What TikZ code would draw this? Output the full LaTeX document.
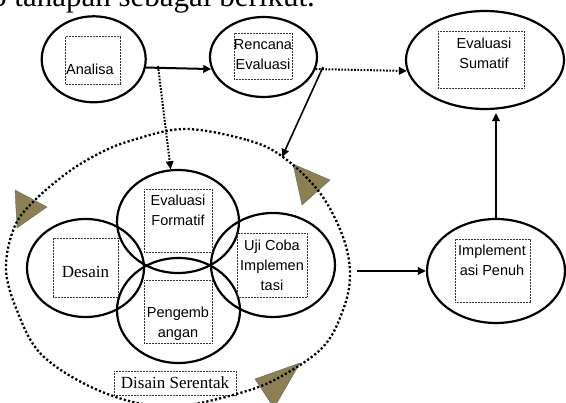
\documentclass[tikz,border=0pt]{standalone}
\usepackage{fontspec}
\newfontfamily\lsans{Liberation Sans}
\newfontfamily\lserif{Liberation Serif}
\usetikzlibrary{shapes.geometric,arrows.meta}
\definecolor{olivetri}{RGB}{140,128,82}
\begin{document}
\begin{tikzpicture}[x=1pt,y=-1pt,
  ell/.style={draw, ellipse, line width=2.2pt, inner sep=0pt},
  tbox/.style={draw=black!80, line width=0.6pt, dash pattern=on 0.6pt off 0.9pt, inner sep=0pt},
  lab/.style={font=\lsans\fontsize{14.5}{20}\selectfont, align=center, inner sep=0pt, anchor=north},
  slab/.style={font=\lserif\fontsize{17}{20}\selectfont, inner sep=0pt},
  arr/.style={line width=2pt, -{Triangle[length=8pt,width=7.5pt]}},
  dots/.style={line width=2pt, dash pattern=on 1.7pt off 1.5pt},
  bigdots/.style={line width=2.3pt, dash pattern=on 2.2pt off 2.2pt},
  tri/.style={fill=olivetri, draw=black!60, line width=0.4pt}
]
\useasboundingbox (0,0) rectangle (566,403);

% intro text (cut at top)
\node[font=\lserif\fontsize{31}{31}\selectfont, anchor=base west, inner sep=0pt] (intro) at (-9,6.5) {5 tahapan sebagai berikut.};

% ellipses
\node[ell, minimum width=104pt, minimum height=86pt] (ana) at (93.7,59.3) {};
\node[ell, minimum width=107pt, minimum height=80pt] (ren) at (263.5,57) {};
\node[ell, minimum width=158pt, minimum height=98pt] (sum) at (485,60) {};
\node[ell, minimum width=138pt, minimum height=104pt] (imp) at (496,271) {};
\node[ell, minimum width=117pt, minimum height=98pt] (des) at (85.5,268) {};
\node[ell, minimum width=122pt, minimum height=103pt] (ef) at (178,221.5) {};
\node[ell, minimum width=123pt, minimum height=105pt] (pen) at (178.5,310.5) {};
\node[ell, minimum width=124pt, minimum height=104pt] (uji) at (273,265) {};

% dotted text boxes
\node[tbox, minimum width=55pt, minimum height=48.3pt] (anabox) at (93.2,60.15) {};
\node[tbox, minimum width=58pt, minimum height=46pt] (renbox) at (263,56) {};
\node[tbox, minimum width=86pt, minimum height=57pt] (sumbox) at (481,59.5) {};
\node[tbox, minimum width=75pt, minimum height=63pt] (impbox) at (492.5,270.5) {};
\node[tbox, minimum width=68pt, minimum height=63pt] (efbox) at (178,220.5) {};
\node[tbox, minimum width=68pt, minimum height=63pt] (penbox) at (178,311.5) {};
\node[tbox, minimum width=70pt, minimum height=64pt] (ujibox) at (272,265) {};
\node[tbox, minimum width=65pt, minimum height=59pt] (desbox) at (85.5,267.5) {};

% labels
\node[lab, anchor=north west] (anatxt) at (66,63.5) {Analisa};
\node[lab] (rentxt) at (263,39.5) {Rencana\\Evaluasi};
\node[lab] (sumtxt) at (484,37.5) {Evaluasi\\Sumatif};
\node[lab] (imptxt) at (492,244.5) {Implement\\asi Penuh};
\node[lab] (eftxt) at (178,194.5) {Evaluasi\\Formatif};
\node[lab] (pentxt) at (178,306.5) {Pengemb\\angan};
\node[lab] (ujitxt) at (272,239.5) {Uji Coba\\Implemen\\tasi};
\node[slab] (destxt) at (85.5,272) {Desain};
\node[tbox, slab, minimum width=122pt, minimum height=24pt] (dis) at (175,383) {Disain Serentak};

% triangles on the cycle
\draw[tri] (15,190) -- (47,207) -- (17,228) -- cycle;
\draw[tri] (293,164) -- (330,180) -- (302,205) -- cycle;
\draw[tri] (255,379) -- (300,363) -- (274,408) -- cycle;

% big dotted cycle
\draw[bigdots] plot[smooth cycle, tension=0.6] coordinates {
  (185,129) (247,140) (283,157) (320,193) (343,237) (350,275) (343,310)
  (323,347) (280,377) (240,393) (180,406) (133,402) (83,383) (40,353)
  (18,313) (6,270) (14,228) (33,202) (67,173) (100,153) (133,140)};

% connectors
\coordinate (j0) at (158,66);
\coordinate (j1) at (323,67);
\coordinate (k1) at (282,157);
\draw[arr] (ana.-9) -- (ren.193);
\draw[dots, -{Triangle[length=8pt,width=7.5pt]}] (ren.-13) -- (sum.188);
\draw[dots, -{Triangle[length=8pt,width=7.5pt]}] (j0) -- (ef.98);
\draw[line width=1.6pt, -{Triangle[length=8pt,width=7.5pt]}] (j1) -- (k1);
\draw[arr, shorten >=3pt] (imp.north) -- (imp.north |- sum.south);
\draw[arr, shorten <=21pt] (uji.east |- imp.west) -- (imp.west);
\end{tikzpicture}
\end{document}
